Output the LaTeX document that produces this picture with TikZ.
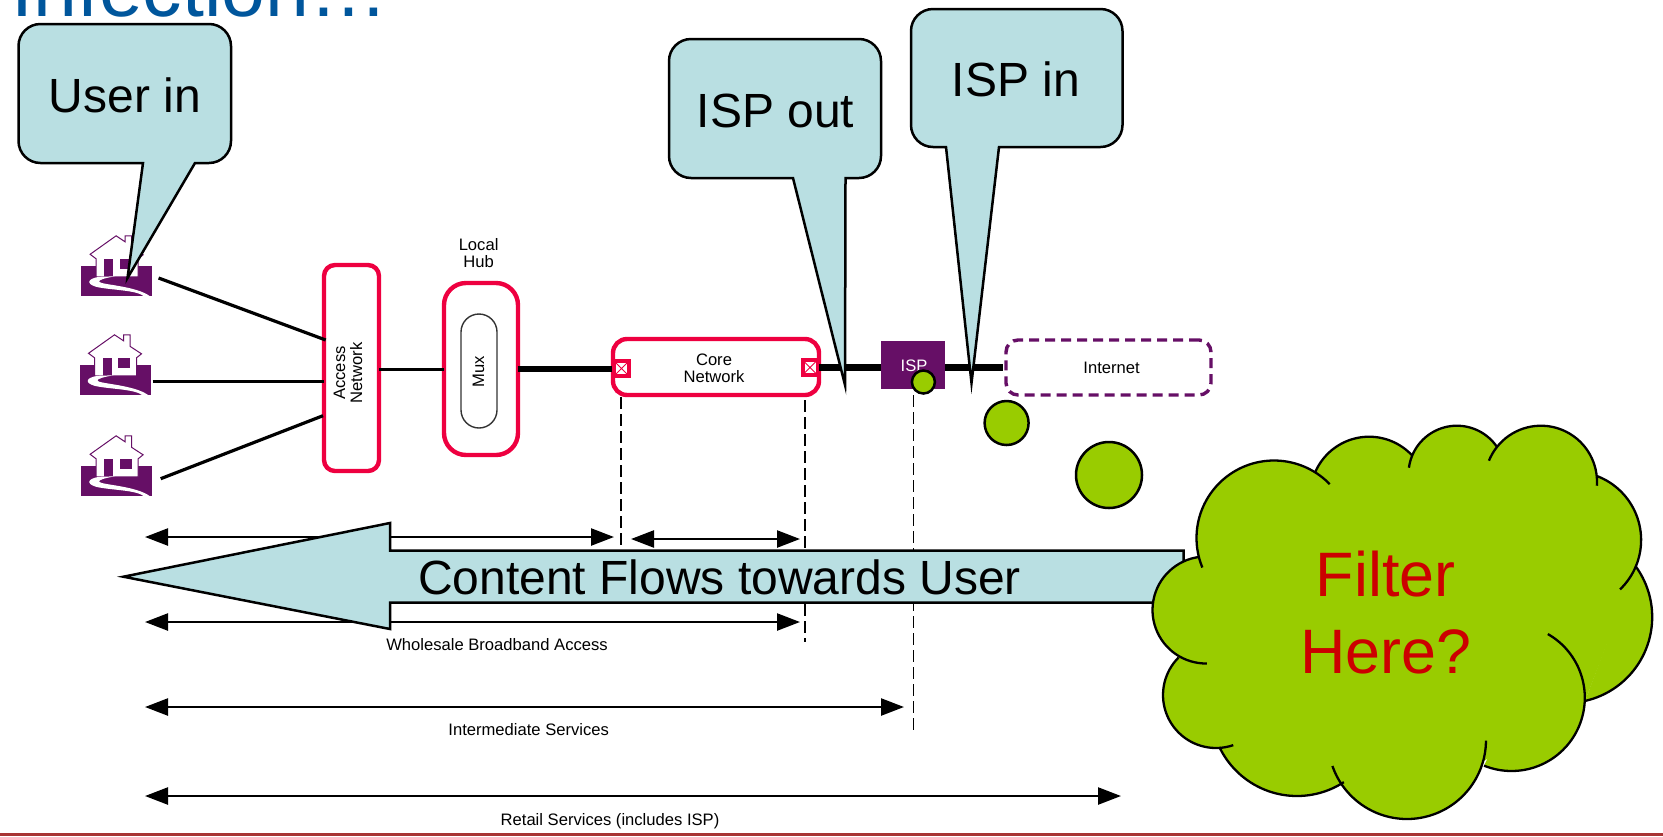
\documentclass[tikz,border=0pt]{standalone}
\usepackage{fontspec}
\setmainfont{Liberation Sans}
\usetikzlibrary{arrows.meta}
\definecolor{tealfill}{HTML}{B9DFE2}
\definecolor{leaf}{HTML}{99CC00}
\definecolor{crim}{HTML}{EE0040}
\definecolor{plum}{HTML}{660F66}
\definecolor{titleblue}{HTML}{00569C}
\definecolor{filterred}{HTML}{CC0000}
\definecolor{barred}{HTML}{A83434}
\newcommand{\callout}[9]{%
  \draw[calloutbody] (#5,#4) [rounded corners=11pt] -- (#1,#4) -- (#1,#2) -- (#3,#2) -- (#3,#4) [sharp corners] -- (#6,#4) -- (#7,#8) -- cycle;
  \coordinate (#9) at (#7,#8);
}
% one lobe: style, centre x, centre y, radius, from angle, to angle
\newcommand{\lobe}[6]{\path[#1] plot[domain=#5:#6,samples=40,smooth] ({#2+#4*cos(\x)},{#3+#4*sin(\x)});}
\newcommand{\cloudlobes}[1]{%
  \lobe{#1}{1274}{538}{77.5}{157.6}{316}
  \lobe{#1}{1369.1}{495.4}{58.7}{203.8}{316.5}
  \lobe{#1}{1456.9}{474.1}{48.4}{187.6}{325.5}
  \lobe{#1}{1540.9}{481.8}{56.1}{202.1}{364}
  \lobe{#1}{1572.7}{540}{68.4}{290.7}{406.3}
  \lobe{#1}{1566.2}{617}{86}{323.6}{437.3}
  \lobe{#1}{1511.5}{697.7}{73.3}{299.7}{472}
  \lobe{#1}{1407}{740}{79}{0.5}{160.8}
  \lobe{#1}{1297}{710}{86}{57}{154.4}
  \lobe{#1}{1216}{695}{53}{71}{225}
  \lobe{#1}{1206}{610}{53.5}{89}{262}
}
\tikzset{
  calloutbody/.style={draw=black,line width=1.25pt,fill=tealfill,line join=miter,miter limit=20},
  bigtext/.style={font=\fontsize{24}{28}\selectfont,inner sep=0,anchor=base},
  smalltext/.style={font=\fontsize{8.3}{8.5}\selectfont,inner sep=0,align=center},
  redbox/.style={draw=crim,line width=2.2pt,fill=white,inner sep=0,outer sep=0},
  housebase/.style={fill=plum,minimum width=35.5pt,minimum height=15.2pt,inner sep=0,outer sep=0},
  blob/.style={draw=black,line width=1.25pt,fill=leaf,circle,inner sep=0,outer sep=0},
  span/.style={line width=1.2pt,{Triangle[length=11.5pt,width=8.5pt]}-{Triangle[length=11.5pt,width=8.5pt]}},
  guide/.style={line width=.65pt,dash pattern=on 6pt off 2.5pt,draw=black},
  thinlink/.style={line width=1.6pt},
  thicklink/.style={line width=3.4pt},
  house/.pic={
    \fill[white,draw=plum,line width=.5pt,line join=miter] (15,11) -- (15,-7) -- (9,-11.5) -- (35,-30) -- (44,-24) -- (44,-30) -- (50.5,-30) -- (50.5,-18.5) -- (62,-11) -- (57,-7) -- (57,11) -- cycle;
    \fill[plum] (23,-6.5) rectangle (32,11);
    \fill[plum] (38.5,-6.5) rectangle (50.5,3.5);
    \fill[white] (34,10.5) .. controls (25,12) and (17,14) .. (18,16) .. controls (20,19) and (55,20) .. (69,30.5) -- (63,30.5) .. controls (55,24) and (30,24.5) .. (15,21) .. controls (5,18) and (6,13) .. (18,11) -- cycle;
  }
}
\begin{document}
\begin{tikzpicture}[x=.5pt,y=-.5pt]
\useasboundingbox (0,0) rectangle (1663,836);
\begin{scope}
\clip (0,0) rectangle (1663,836);
\node[inner sep=0,anchor=base west,font=\fontsize{39.4}{40}\selectfont,text=titleblue] (title) at (11,16) {Infection…};
\end{scope}
% houses
\node[housebase] (h1) at (116.6,281) {};
\node[housebase] (h2) at (115,380) {};
\node[housebase] (h3) at (116.6,481) {};
\pic at (h1.north west) {house};
\pic at (h2.north west) {house};
\pic at (h3.north west) {house};
% boxes
\node[redbox,rounded corners=5.5pt,minimum width=27.5pt,minimum height=103pt] (access) at (351.5,368) {};
\node[smalltext,rotate=90] (accesst) at (348,373) {Access\\Network};
\node[redbox,rounded corners=11pt,minimum width=37pt,minimum height=86pt] (hub) at (481,369) {};
\node[draw=black!80,line width=.7pt,fill=white,rounded corners=9pt,minimum width=18pt,minimum height=57pt,inner sep=0,outer sep=0] (mux) at (479,371) {};
\node[smalltext,rotate=90] (muxt) at (478.5,372) {Mux};
\node[smalltext] (local) at (478.6,253.5) {Local\\Hub};
\node[redbox,rounded corners=7pt,minimum width=103pt,minimum height=28pt] (core) at (716,367) {};
\node[smalltext] (coret) at (714,368) {Core\\Network};
\node[fill=crim,minimum width=9.5pt,minimum height=9.5pt,inner sep=0,outer sep=0] (pl) at (621.5,368.5) {};
\node[fill=white,minimum width=5.5pt,minimum height=5.5pt,inner sep=0,outer sep=0] (pli) at (pl) {};
\draw[crim,line width=.5pt] (pli.north west) -- (pli.south east) (pli.north east) -- (pli.south west);
\node[fill=crim,minimum width=9.5pt,minimum height=9.5pt,inner sep=0,outer sep=0] (pr) at (810,367.5) {};
\node[fill=white,minimum width=5.5pt,minimum height=5.5pt,inner sep=0,outer sep=0] (pri) at (pr) {};
\draw[crim,line width=.5pt] (pri.north west) -- (pri.south east) (pri.north east) -- (pri.south west);
\node[fill=plum,minimum width=32pt,minimum height=24pt,inner sep=0,outer sep=0] (isp) at (913,365) {};
\node[smalltext,text=white,anchor=base] (ispt) at (914,371) {ISP};
\node[draw=plum,line width=1.7pt,fill=white,dash pattern=on 5pt off 3pt,rounded corners=6pt,minimum width=102.5pt,minimum height=27.5pt,inner sep=0,outer sep=0] (net) at (1108.5,367.5) {};
\node[smalltext,anchor=base] (nett) at (1111.6,373) {Internet};
% connectors
\coordinate (h1out) at (158.6,278);
\coordinate (acc1) at (325.7,340);
\coordinate (h3out) at (160.7,478.7);
\coordinate (acc3) at (323,415.7);
\coordinate (accr) at (379,369.5);
\coordinate (hubl) at (444,369.5);
\coordinate (hubr) at (518,369);
\coordinate (corel) at (612,369);
\coordinate (corer) at (819,367.7);
\coordinate (ispl) at (881,367.7);
\coordinate (ispr) at (945,367.7);
\coordinate (netl) at (1003,367.7);
\draw[thinlink] (h1out) -- (acc1);
\draw[thinlink] (h2.east |- 0,381.7) ++(2,0) -- (access.west |- 0,381.7);
\draw[thinlink] (h3out) -- (acc3);
\draw[thinlink] (accr) -- (hubl);
\draw[line width=2.8pt] (hubr) -- (corel);
\draw[thicklink] (corer) -- (ispl);
\draw[thicklink] (ispr) -- (netl);
% guides
\coordinate (g1a) at (621,397); \coordinate (g1b) at (621,549);
\coordinate (g2a) at (805,400); \coordinate (g2b) at (805,642);
\coordinate (g3a) at (913.4,395); \coordinate (g3b) at (913.4,730);
\draw[guide] (g1a) -- (g1b);
\draw[guide] (g2a) -- (g2b);
\draw[guide] (g3a) -- (g3b);
% span arrows
\coordinate (s1a) at (145,537); \coordinate (s1b) at (614,537);
\coordinate (s2a) at (631,539); \coordinate (s2b) at (800,539);
\coordinate (s3a) at (145,622); \coordinate (s3b) at (800,622);
\coordinate (s4a) at (145,707); \coordinate (s4b) at (904,707);
\coordinate (s5a) at (145,796); \coordinate (s5b) at (1121,796);
\draw[span] (s1a) -- (s1b);
\draw[span] (s2a) -- (s2b);
\draw[span] (s3a) -- (s3b);
\draw[span] (s4a) -- (s4b);
\draw[span] (s5a) -- (s5b);
\node[smalltext,anchor=base] (wba) at (497,650.5) {Wholesale Broadband Access};
\node[smalltext,anchor=base] (ims) at (528.7,735.5) {Intermediate Services};
\node[smalltext,anchor=base] (rts) at (610,825.5) {Retail Services (includes ISP)};
% blobs
\node[blob,minimum size=22pt] (b2) at (1006.6,423) {};
\node[blob,minimum size=33pt] (b3) at (1109,475) {};
% big arrow
\draw[calloutbody] (123.4,576.7) -- (390,523) -- (390,550.5) -- (1183.7,550.5) -- (1183.7,602.5) -- (390,602.5) -- (390,629) -- cycle;
\node[bigtext] (flow) at (719.6,594) {Content Flows towards User};
% isp dot on top
\node[blob,minimum size=11.5pt] (b1) at (923.4,382) {};
% callouts
\callout{18.5}{24}{231}{163}{143}{195}{127.5}{278}{tip1}
\node[bigtext] (ci1) at (125,112) {User in};
\callout{669}{39}{881}{178}{793}{845.5}{845}{385}{tip2}
\node[bigtext] (ci2) at (775.5,127) {ISP out};
\callout{911}{9}{1122.5}{147}{946}{999}{971.5}{383}{tip3}
\node[bigtext] (ci3) at (1016,96) {ISP in};
% cloud
\path[fill=leaf,draw=leaf,line width=1pt] (1198.7,556.7)--(1315.4,471.7)--(1411.7,455)--(1496.8,446.7)--(1596.9,476)--(1635.7,565.7)--(1584.7,699.3)--(1483.5,760)--(1344.2,782.7)--(1220.3,746.7)--(1178.3,656.7)--cycle;
\cloudlobes{fill=leaf}
\cloudlobes{draw=black,line width=1.15pt}
\node[font=\fontsize{31.4}{38.5}\selectfont,text=filterred,align=center,inner sep=0] (filter) at (1385.5,613) {Filter\\Here?};
% bottom rule
\fill[barred] (0,833) rectangle (1663,836);
\end{tikzpicture}
\end{document}
